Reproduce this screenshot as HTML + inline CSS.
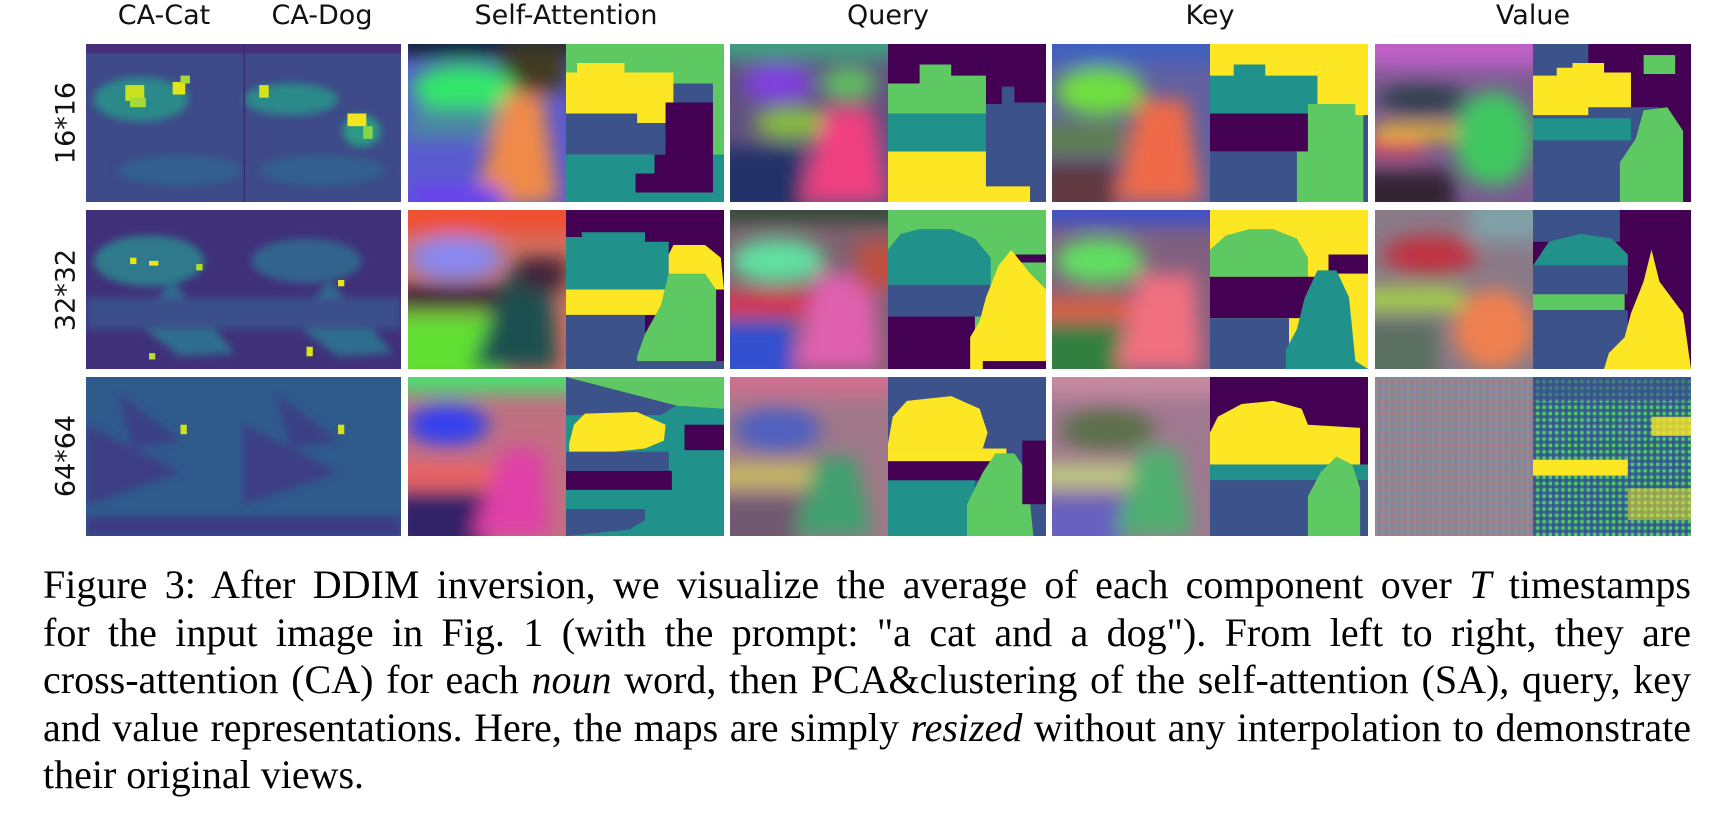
<!DOCTYPE html>
<html><head><meta charset="utf-8"><style>
html,body{margin:0;padding:0;background:#fff;width:1736px;height:830px;overflow:hidden}
.h{position:absolute;font-family:"DejaVu Sans","Liberation Sans",sans-serif;font-size:27px;color:#111;white-space:nowrap;transform:translateX(-50%)}
.r{position:absolute;font-family:"DejaVu Sans","Liberation Sans",sans-serif;font-size:27px;color:#111;white-space:nowrap;transform:translate(-50%,-50%) rotate(-90deg)}
.cap{position:absolute;left:43px;width:1648px;font-family:"Liberation Serif",serif;font-size:40px;color:#000;line-height:47.5px;top:561px;text-align:justify}
.cap div{text-align:justify;text-align-last:justify;height:47.5px;white-space:nowrap}
.cap div.l{text-align-last:left}
</style></head><body>
<div class="h" style="left:164px;top:0px">CA-Cat</div>
<div class="h" style="left:322px;top:0px">CA-Dog</div>
<div class="h" style="left:566px;top:0px">Self-Attention</div>
<div class="h" style="left:888px;top:0px">Query</div>
<div class="h" style="left:1210px;top:0px">Key</div>
<div class="h" style="left:1533px;top:0px">Value</div>
<div class="r" style="left:66px;top:123px">16*16</div>
<div class="r" style="left:66px;top:290px">32*32</div>
<div class="r" style="left:66px;top:456px">64*64</div>

<svg width="1736" height="560" style="position:absolute;left:0;top:0">
<defs>
<filter id="b" x="-20%" y="-20%" width="140%" height="140%"><feGaussianBlur stdDeviation="6"/></filter>
<filter id="s" x="-20%" y="-20%" width="140%" height="140%"><feGaussianBlur stdDeviation="2.5"/></filter>
<pattern id="n2" width="4" height="4" patternUnits="userSpaceOnUse"><rect width="4" height="4" fill="#9a7fa0"/><rect width="2" height="2" fill="#6aa07a"/><rect x="2" y="2" width="2" height="2" fill="#b07060"/><rect x="2" width="2" height="2" fill="#7080c0"/></pattern>
<pattern id="n3" width="4" height="4" patternUnits="userSpaceOnUse"><rect width="4" height="4" fill="#2e6e8e"/><rect width="2" height="2" fill="#3b528b"/><rect x="2" y="2" width="2" height="2" fill="#5ec962"/></pattern>
</defs>

<svg x="86" y="44" width="315" height="158" viewBox="0 0 200 100" preserveAspectRatio="none">
<rect width="200" height="100" fill="#3e4a89"/>
<rect x="0" y="0" width="200" height="6" fill="#46307a"/>
<g filter="url(#s)"><ellipse cx="35" cy="35" rx="30" ry="14" fill="#2a8a8a"/><ellipse cx="130" cy="35" rx="30" ry="10" fill="#2a8a8a"/><ellipse cx="175" cy="55" rx="12" ry="10" fill="#2a9a86"/><ellipse cx="60" cy="80" rx="40" ry="10" fill="#325f8d"/><ellipse cx="150" cy="80" rx="40" ry="10" fill="#325f8d"/></g>
<rect x="25" y="26" width="12" height="10" fill="#c8e020"/><rect x="28" y="34" width="10" height="6" fill="#a5db36"/><rect x="55" y="24" width="8" height="8" fill="#e0e418"/><rect x="60" y="20" width="6" height="5" fill="#a5db36"/>
<rect x="110" y="26" width="6" height="8" fill="#d8e21a"/><rect x="166" y="44" width="12" height="8" fill="#f0e51e"/><rect x="176" y="52" width="6" height="8" fill="#86d549"/>
<rect x="100" y="0" width="1" height="100" fill="#3a2a70"/>
</svg>
<svg x="86" y="210" width="315" height="159" viewBox="0 0 200 100" preserveAspectRatio="none">
<rect width="200" height="100" fill="#40307a"/>
<g filter="url(#s)"><ellipse cx="40" cy="32" rx="35" ry="16" fill="#2e7a8c"/><ellipse cx="140" cy="32" rx="35" ry="14" fill="#33638d"/><path d="M55 45 L95 90 L60 92 L30 70 Z" fill="#2e6e8e"/><path d="M155 45 L195 90 L160 92 L130 70 Z" fill="#2e6e8e"/><rect x="0" y="55" width="200" height="20" fill="#3b4f8a"/></g>
<rect x="28" y="30" width="4" height="4" fill="#e7e419"/><rect x="40" y="32" width="6" height="3" fill="#e7e419"/><rect x="70" y="34" width="4" height="4" fill="#b5de2b"/><rect x="40" y="90" width="4" height="4" fill="#b5de2b"/><rect x="140" y="86" width="4" height="6" fill="#d8e21a"/><rect x="160" y="44" width="4" height="4" fill="#e7e419"/>
</svg>
<svg x="86" y="377" width="315" height="159" viewBox="0 0 200 100" preserveAspectRatio="none">
<rect width="200" height="100" fill="#2f5a8c"/>
<g filter="url(#s)"><path d="M0 30 L60 60 L0 80 Z" fill="#3e3d85"/><path d="M100 30 L160 60 L100 80 Z" fill="#3e3d85"/><path d="M20 10 L60 40 L30 45 Z" fill="#3b3f85"/><path d="M120 10 L160 40 L130 45 Z" fill="#3b3f85"/><rect x="0" y="88" width="200" height="12" fill="#3c3a84"/></g>
<rect x="60" y="30" width="4" height="6" fill="#d0e11c"/><rect x="160" y="30" width="4" height="6" fill="#d0e11c"/>
</svg>

<svg x="408" y="44" width="158" height="158" viewBox="0 0 100 100" preserveAspectRatio="none">
<rect width="100" height="100" fill="#5a5ad0"/>
<g filter="url(#b)"><rect x="-10" y="-10" width="120" height="18" fill="#102030"/><rect x="60" y="0" width="40" height="30" fill="#403a20"/><ellipse cx="35" cy="28" rx="33" ry="15" fill="#30e868"/><rect x="0" y="40" width="60" height="20" fill="#4a8aa0"/><path d="M62 30 L85 32 L95 100 L40 105 Z" fill="#f08a48"/><rect x="0" y="90" width="60" height="15" fill="#6a40f0"/></g>
</svg>
<svg x="566" y="44" width="158" height="158" viewBox="0 0 100 100" preserveAspectRatio="none">
<rect width="100" height="100" fill="#5ec962"/>
<path d="M0 18 L7 18 L7 12 L37 12 L37 18 L68 18 L68 50 L45 50 L45 44 L0 44 Z" fill="#fde725"/>
<path d="M0 44 L45 44 L45 50 L68 50 L68 25 L93 25 L93 70 L0 70 Z" fill="#3b528b"/>
<rect x="0" y="70" width="100" height="30" fill="#21918c"/>
<path d="M63 37 L93 37 L93 94 L44 94 L44 82 L56 82 L56 70 L63 70 Z" fill="#440154"/>
</svg>
<svg x="408" y="210" width="158" height="159" viewBox="0 0 100 100" preserveAspectRatio="none">
<rect width="100" height="100" fill="#d07060"/>
<g filter="url(#b)"><rect x="-10" y="-10" width="120" height="25" fill="#f05030"/><ellipse cx="30" cy="30" rx="30" ry="14" fill="#8888f0"/><rect x="-10" y="48" width="70" height="14" fill="#301830"/><rect x="-10" y="65" width="70" height="45" fill="#60e030"/><path d="M65 35 L90 40 L95 100 L40 100 Z" fill="#1f5050"/><rect x="70" y="30" width="30" height="20" fill="#402038"/></g>
</svg>
<svg x="566" y="210" width="158" height="159" viewBox="0 0 100 100" preserveAspectRatio="none">
<rect width="100" height="100" fill="#440154"/>
<path d="M0 17 L10 17 L10 14 L50 14 L50 20 L65 20 L65 50 L0 50 Z" fill="#21918c"/>
<rect x="0" y="50" width="65" height="16" fill="#fde725"/>
<path d="M68 22 L88 22 L98 30 L100 50 L65 50 L65 28 Z" fill="#fde725"/>
<rect x="0" y="66" width="50" height="34" fill="#3b528b"/>
<path d="M45 100 L45 92 L50 78 L60 60 L65 40 L88 40 L95 50 L95 95 L100 100 Z" fill="#5ec962"/>
<rect x="0" y="95" width="100" height="5" fill="#3b528b"/>
</svg>
<svg x="408" y="377" width="158" height="159" viewBox="0 0 100 100" preserveAspectRatio="none">
<rect width="100" height="100" fill="#c07080"/>
<g filter="url(#b)"><rect x="-10" y="-10" width="120" height="20" fill="#48e070"/><ellipse cx="25" cy="30" rx="26" ry="13" fill="#3040f0"/><rect x="-10" y="55" width="70" height="14" fill="#f06060"/><rect x="-10" y="72" width="60" height="40" fill="#302068"/><path d="M60 45 L85 45 L90 100 L40 100 Z" fill="#e040a8"/></g>
</svg>
<svg x="566" y="377" width="158" height="159" viewBox="0 0 100 100" preserveAspectRatio="none">
<rect width="100" height="100" fill="#21918c"/>
<path d="M0 0 L70 0 L70 18 L60 24 L0 24 Z" fill="#3b528b"/>
<path d="M0 0 L70 0 L100 0 L100 20 L70 18 Z" fill="#5ec962"/>
<path d="M0 0 L60 22 L0 18 Z" fill="#3b528b"/>
<path d="M2 42 L5 30 L12 23 L45 22 L63 30 L62 40 L50 45 L30 47 L2 47 Z" fill="#fde725"/>
<rect x="0" y="47" width="65" height="12" fill="#3b528b"/>
<rect x="0" y="59" width="67" height="12" fill="#440154"/>
<rect x="75" y="30" width="25" height="16" fill="#440154"/>
<path d="M0 83 L50 83 L50 90 L40 96 L0 100 Z" fill="#3b528b"/>
</svg>

<svg x="730" y="44" width="158" height="158" viewBox="0 0 100 100" preserveAspectRatio="none">
<rect width="100" height="100" fill="#605080"/>
<g filter="url(#b)"><rect x="-10" y="-10" width="120" height="20" fill="#40a080"/><ellipse cx="30" cy="25" rx="22" ry="12" fill="#8040e0"/><ellipse cx="75" cy="25" rx="18" ry="10" fill="#60c060"/><ellipse cx="40" cy="50" rx="25" ry="10" fill="#88c040"/><rect x="-10" y="65" width="55" height="45" fill="#203068"/><path d="M60 40 L90 40 L100 100 L45 100 Z" fill="#f04080"/></g>
</svg>
<svg x="888" y="44" width="158" height="158" viewBox="0 0 100 100" preserveAspectRatio="none">
<rect width="100" height="100" fill="#440154"/>
<path d="M0 25 L20 25 L20 13 L40 13 L40 20 L62 20 L62 44 L0 44 Z" fill="#5ec962"/>
<rect x="0" y="44" width="62" height="24" fill="#21918c"/>
<rect x="0" y="68" width="62" height="32" fill="#fde725"/>
<rect x="60" y="90" width="30" height="10" fill="#fde725"/>
<path d="M62 38 L72 38 L72 27 L80 27 L80 37 L100 37 L100 100 L90 100 L90 90 L62 90 Z" fill="#3b528b"/>
</svg>
<svg x="730" y="210" width="158" height="159" viewBox="0 0 100 100" preserveAspectRatio="none">
<rect width="100" height="100" fill="#806070"/>
<g filter="url(#b)"><rect x="-10" y="-10" width="120" height="18" fill="#304838"/><ellipse cx="30" cy="32" rx="30" ry="14" fill="#60e0a0"/><rect x="-10" y="52" width="65" height="14" fill="#e03050"/><rect x="-10" y="70" width="50" height="40" fill="#3050d0"/><path d="M55 40 L90 40 L95 100 L40 100 Z" fill="#e060b0"/><rect x="80" y="20" width="30" height="30" fill="#c05040"/></g>
</svg>
<svg x="888" y="210" width="158" height="159" viewBox="0 0 100 100" preserveAspectRatio="none">
<rect width="100" height="100" fill="#5ec962"/>
<path d="M0 25 L8 15 L20 12 L40 12 L55 18 L65 30 L65 47 L0 47 Z" fill="#21918c"/>
<rect x="0" y="47" width="65" height="20" fill="#3b528b"/>
<rect x="0" y="67" width="55" height="33" fill="#440154"/>
<rect x="80" y="28" width="20" height="5" fill="#440154"/>
<path d="M52 100 L52 80 L58 70 L62 55 L70 35 L78 25 L90 40 L100 50 L100 100 Z" fill="#fde725"/>
<rect x="60" y="95" width="40" height="5" fill="#440154"/>
</svg>
<svg x="730" y="377" width="158" height="159" viewBox="0 0 100 100" preserveAspectRatio="none">
<rect width="100" height="100" fill="#a07888"/>
<g filter="url(#b)"><rect x="-10" y="-10" width="120" height="22" fill="#d07090"/><ellipse cx="30" cy="33" rx="28" ry="14" fill="#5060c0"/><rect x="-10" y="55" width="65" height="14" fill="#c8c060"/><rect x="-10" y="75" width="55" height="35" fill="#705870"/><path d="M55 50 L80 50 L90 100 L40 100 Z" fill="#40a070"/></g>
</svg>
<svg x="888" y="377" width="158" height="159" viewBox="0 0 100 100" preserveAspectRatio="none">
<rect width="100" height="100" fill="#3b528b"/>
<path d="M0 42 L3 25 L12 15 L40 12 L58 20 L63 35 L60 45 L0 45 Z" fill="#fde725"/>
<rect x="0" y="45" width="75" height="8" fill="#fde725"/>
<rect x="0" y="53" width="70" height="12" fill="#440154"/>
<rect x="0" y="65" width="55" height="35" fill="#21918c"/>
<path d="M50 100 L50 80 L60 60 L68 48 L80 48 L88 60 L92 100 Z" fill="#5ec962"/>
<rect x="85" y="40" width="15" height="40" fill="#440154"/>
</svg>

<svg x="1052" y="44" width="158" height="158" viewBox="0 0 100 100" preserveAspectRatio="none">
<rect width="100" height="100" fill="#6060a0"/>
<g filter="url(#b)"><rect x="-10" y="-10" width="120" height="22" fill="#4060c0"/><ellipse cx="30" cy="30" rx="28" ry="15" fill="#70e040"/><rect x="-10" y="50" width="55" height="20" fill="#608050"/><rect x="-10" y="75" width="50" height="35" fill="#603840"/><path d="M55 35 L85 35 L95 100 L40 100 Z" fill="#f06a48"/></g>
</svg>
<svg x="1210" y="44" width="158" height="158" viewBox="0 0 100 100" preserveAspectRatio="none">
<rect width="100" height="100" fill="#fde725"/>
<path d="M0 20 L15 20 L15 13 L35 13 L35 20 L68 20 L68 44 L0 44 Z" fill="#21918c"/>
<rect x="0" y="44" width="62" height="24" fill="#440154"/>
<rect x="0" y="68" width="57" height="32" fill="#3b528b"/>
<path d="M55 100 L55 68 L62 68 L62 38 L92 38 L92 45 L97 45 L97 100 Z" fill="#5ec962"/>
<rect x="97" y="45" width="3" height="55" fill="#3b528b"/>
</svg>
<svg x="1052" y="210" width="158" height="159" viewBox="0 0 100 100" preserveAspectRatio="none">
<rect width="100" height="100" fill="#806080"/>
<g filter="url(#b)"><rect x="-10" y="-10" width="120" height="20" fill="#4050c8"/><ellipse cx="30" cy="32" rx="28" ry="14" fill="#60e060"/><rect x="-10" y="55" width="65" height="14" fill="#e06040"/><rect x="-10" y="72" width="55" height="40" fill="#308040"/><path d="M55 40 L90 40 L95 100 L40 100 Z" fill="#f07080"/></g>
</svg>
<svg x="1210" y="210" width="158" height="159" viewBox="0 0 100 100" preserveAspectRatio="none">
<rect width="100" height="100" fill="#fde725"/>
<path d="M0 25 L10 16 L25 12 L40 12 L55 18 L62 30 L62 42 L0 42 Z" fill="#5ec962"/>
<rect x="0" y="42" width="75" height="26" fill="#440154"/>
<rect x="75" y="28" width="25" height="12" fill="#440154"/>
<rect x="0" y="68" width="50" height="32" fill="#3b528b"/>
<path d="M48 100 L48 88 L55 75 L60 55 L68 38 L80 38 L88 55 L92 95 L100 100 Z" fill="#21918c"/>
</svg>
<svg x="1052" y="377" width="158" height="159" viewBox="0 0 100 100" preserveAspectRatio="none">
<rect width="100" height="100" fill="#a07890"/>
<g filter="url(#b)"><rect x="-10" y="-10" width="120" height="22" fill="#c88aa0"/><ellipse cx="35" cy="33" rx="30" ry="13" fill="#5a7048"/><rect x="-10" y="55" width="65" height="14" fill="#c0d080"/><rect x="-10" y="75" width="55" height="35" fill="#6860c0"/><path d="M55 45 L80 45 L90 100 L40 100 Z" fill="#50b070"/></g>
</svg>
<svg x="1210" y="377" width="158" height="159" viewBox="0 0 100 100" preserveAspectRatio="none">
<rect width="100" height="100" fill="#440154"/>
<path d="M0 35 L5 25 L20 17 L40 15 L58 20 L62 30 L95 32 L95 55 L0 55 Z" fill="#fde725"/>
<rect x="0" y="55" width="100" height="10" fill="#21918c"/>
<rect x="0" y="65" width="100" height="35" fill="#3b528b"/>
<path d="M62 100 L62 75 L70 60 L80 50 L90 55 L95 70 L95 100 Z" fill="#5ec962"/>
</svg>

<svg x="1375" y="44" width="158" height="158" viewBox="0 0 100 100" preserveAspectRatio="none">
<rect width="100" height="100" fill="#7a5a90"/>
<g filter="url(#b)"><rect x="-10" y="-10" width="120" height="25" fill="#c060c8"/><ellipse cx="30" cy="35" rx="28" ry="10" fill="#304050"/><rect x="0" y="52" width="60" height="8" fill="#f8d000"/><rect x="-10" y="60" width="40" height="10" fill="#e04060"/><ellipse cx="75" cy="60" rx="25" ry="30" fill="#40c860"/><rect x="-10" y="80" width="60" height="30" fill="#302030"/></g>
</svg>
<svg x="1533" y="44" width="158" height="158" viewBox="0 0 100 100" preserveAspectRatio="none">
<rect width="100" height="100" fill="#3b528b"/>
<path d="M35 0 L100 0 L100 100 L80 100 L80 40 L60 40 L60 25 L35 25 Z" fill="#440154"/>
<path d="M0 20 L15 20 L15 15 L25 15 L25 12 L45 12 L45 18 L62 18 L62 40 L35 40 L35 45 L0 45 Z" fill="#fde725"/>
<rect x="0" y="47" width="62" height="14" fill="#21918c"/>
<path d="M55 100 L55 75 L65 60 L70 42 L85 40 L95 55 L95 100 Z" fill="#5ec962"/>
<rect x="70" y="7" width="20" height="12" fill="#5ec962"/>
</svg>
<svg x="1375" y="210" width="158" height="159" viewBox="0 0 100 100" preserveAspectRatio="none">
<rect width="100" height="100" fill="#8a7a88"/>
<g filter="url(#b)"><ellipse cx="35" cy="28" rx="30" ry="12" fill="#c03040"/><rect x="-10" y="50" width="65" height="12" fill="#a8e040"/><ellipse cx="75" cy="75" rx="25" ry="25" fill="#f08050"/><rect x="-10" y="70" width="50" height="40" fill="#5a7060"/><rect x="60" y="-10" width="50" height="30" fill="#80a0a8"/></g>
</svg>
<svg x="1533" y="210" width="158" height="159" viewBox="0 0 100 100" preserveAspectRatio="none">
<rect width="100" height="100" fill="#440154"/>
<rect x="0" y="0" width="100" height="20" fill="#3b528b"/>
<rect x="55" y="0" width="45" height="30" fill="#440154"/>
<path d="M0 35 L10 20 L30 15 L50 18 L60 28 L60 35 Z" fill="#21918c"/>
<rect x="0" y="35" width="60" height="18" fill="#3b528b"/>
<rect x="0" y="53" width="58" height="10" fill="#5ec962"/>
<rect x="0" y="63" width="60" height="37" fill="#3b528b"/>
<path d="M45 100 L48 90 L58 80 L62 65 L70 45 L75 25 L80 45 L95 65 L100 100 Z" fill="#fde725"/>
</svg>
<svg x="1375" y="377" width="158" height="159" viewBox="0 0 100 100" preserveAspectRatio="none">
<rect width="100" height="100" fill="url(#n2)"/>
<rect width="100" height="100" fill="#9a8a98" opacity="0.4"/>
</svg>
<svg x="1533" y="377" width="158" height="159" viewBox="0 0 100 100" preserveAspectRatio="none">
<rect width="100" height="100" fill="url(#n3)"/>
<rect x="0" y="0" width="100" height="15" fill="#3b528b" opacity="0.6"/>
<rect x="0" y="52" width="60" height="10" fill="#fde725"/>
<rect x="75" y="25" width="25" height="12" fill="#fde725" opacity="0.8"/>
<rect x="60" y="70" width="40" height="20" fill="#fde725" opacity="0.5"/>
</svg>
</svg>

<div class="cap">
<div>Figure 3: After DDIM inversion, we visualize the average of each component over <i>T</i> timestamps</div>
<div>for the input image in Fig. 1 (with the prompt: "a cat and a dog"). From left to right, they are</div>
<div>cross-attention (CA) for each <i>noun</i> word, then PCA&amp;clustering of the self-attention (SA), query, key</div>
<div>and value representations. Here, the maps are simply <i>resized</i> without any interpolation to demonstrate</div>
<div class="l">their original views.</div>
</div>
</body></html>
